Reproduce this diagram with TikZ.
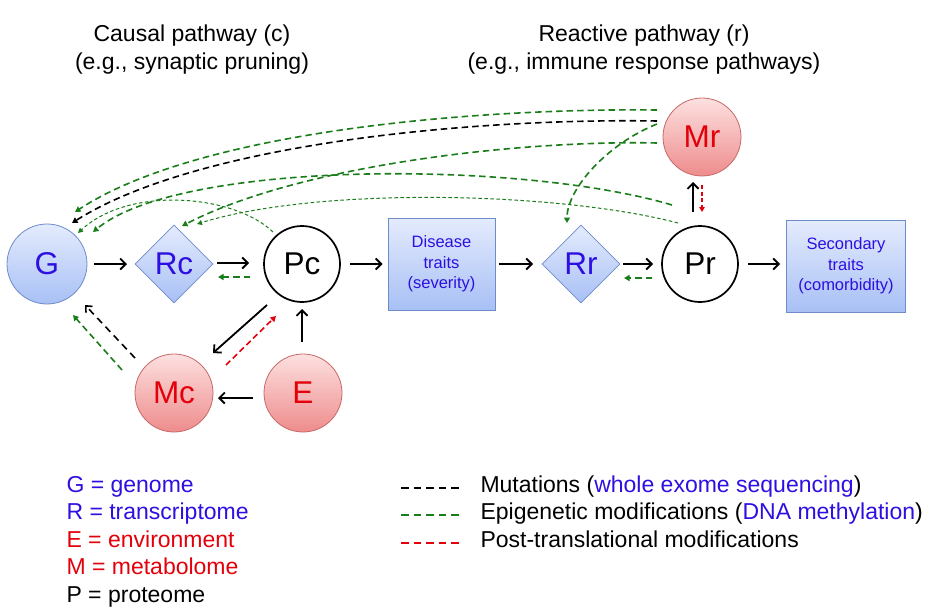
\documentclass[tikz,border=0pt]{standalone}
\usepackage{fontspec}
\setmainfont{Liberation Sans}
\usetikzlibrary{arrows.meta,shapes.geometric,calc}
\definecolor{tblue}{RGB}{45,15,225}
\definecolor{tred}{RGB}{228,0,10}
\definecolor{tgreen}{RGB}{25,125,25}
\definecolor{bfillT}{RGB}{228,235,253}
\definecolor{bfillB}{RGB}{168,192,245}
\definecolor{bdraw}{RGB}{110,140,200}
\definecolor{rfillT}{RGB}{253,224,224}
\definecolor{rfillB}{RGB}{238,140,140}
\definecolor{rdraw}{RGB}{200,105,105}
\tikzset{
  bignum/.style={font=\fontsize{31.5}{31.5}\selectfont},
  bcirc/.style={circle, minimum size=80pt, inner sep=0pt, draw=bdraw, line width=0.8pt,
    top color=bfillT, bottom color=bfillB, text=tblue, bignum},
  rcirc/.style={circle, minimum size=78pt, inner sep=0pt, draw=rdraw, line width=0.8pt,
    top color=rfillT, bottom color=rfillB, text=tred, bignum},
  pcirc/.style={circle, minimum size=76pt, inner sep=0pt, draw=black, line width=1.7pt,
    fill=white, text=black, bignum},
  dmd/.style={diamond, minimum width=78pt, minimum height=78pt, inner sep=0pt, draw=bdraw,
    line width=0.8pt, top color=bfillT, bottom color=bfillB, text=tblue, bignum},
  tbox/.style={rectangle, minimum height=92pt, inner sep=0pt, draw=bdraw, line width=0.8pt,
    top color=bfillT, bottom color=bfillB, text=tblue, align=center,
    font=\fontsize{16.5}{20.5}\selectfont},
  hdr/.style={anchor=base, font=\fontsize{23}{28}\selectfont},
  leg/.style={anchor=base west, font=\fontsize{23}{28}\selectfont},
  sarr/.style={line width=1.8pt, -{Straight Barb[length=5.5pt,width=11pt]}},
  gd/.style={tgreen, line width=1.6pt, dash pattern=on 6.5pt off 4pt, -{Triangle[length=5.5pt,width=6pt]}},
  gthin/.style={tgreen, line width=1pt, dash pattern=on 3.5pt off 2.5pt, -{Triangle[length=5pt,width=5pt]}},
  kd/.style={black, line width=1.6pt, dash pattern=on 6.5pt off 4pt, -{Triangle[length=5.5pt,width=6pt]}},
  kdb/.style={black, line width=1.6pt, dash pattern=on 7pt off 5pt, -{Straight Barb[length=5pt,width=9pt]}},
  rd/.style={tred, line width=1.6pt, dash pattern=on 6pt off 3.5pt, -{Triangle[length=5.5pt,width=6pt]}},
  rdsmall/.style={tred, line width=1.3pt, dash pattern=on 4pt off 2.5pt, -{Triangle[length=5pt,width=5.5pt]}},
  legline/.style={line width=2pt, dash pattern=on 7.5pt off 5pt},
}
\begin{document}
\begin{tikzpicture}[x=1pt,y=-1pt]
\useasboundingbox (0,0) rectangle (930,610);
\fill[white] (0,0) rectangle (930,610);

% headers
\node[hdr] (h1) at (192,42) {Causal pathway (c)};
\node[hdr] (h2) at (192,70) {(e.g., synaptic pruning)};
\node[hdr] (h3) at (644,42) {Reactive pathway (r)};
\node[hdr] (h4) at (644,70) {(e.g., immune response pathways)};

% nodes
\node[bcirc] (G) at (47,264) {G};
\node[dmd] (Rc) at (174,264) {Rc};
\node[pcirc] (Pc) at (302,264) {Pc};
\node[tbox, minimum width=107pt] (Dis) at (441.5,264) {Disease\\traits\\(severity)};
\node[dmd] (Rr) at (581,264) {Rr};
\node[pcirc] (Pr) at (700,264) {Pr};
\node[tbox, minimum width=119pt] (Sec) at (846,266) {Secondary\\traits\\(comorbidity)};
\node[rcirc] (Mr) at (702,137) {Mr};
\node[rcirc] (Mc) at (174,393) {Mc};
\node[rcirc] (E) at (303,393) {E};

% main row arrows
\draw[sarr] ($(G)+(47,0)$) -- ($(Rc)+(-47,0)$);
\draw[sarr] ($(Rc)+(43,-1)$) -- ($(Pc)+(-53,-1)$);
\draw[gd] ($(Pc)+(-52,13)$) -- ($(Rc)+(44,13)$);
\draw[sarr] ($(Pc)+(48,0)$) -- ($(Dis)+(-59,0)$);
\draw[sarr] ($(Dis)+(57,0)$) -- ($(Rr)+(-48,0)$);
\draw[sarr] ($(Rr)+(42,0)$) -- ($(Pr)+(-47,0)$);
\draw[gd] ($(Pr)+(-48,14)$) -- ($(Rr)+(43,14)$);
\draw[sarr] ($(Pr)+(48,0)$) -- ($(Sec)+(-66,-2)$);
\draw[sarr] ($(Pr)+(-7,-52)$) -- ($(Mr)+(-9,45)$);
\draw[rdsmall] ($(Mr)+(0,48)$) -- ($(Pr)+(2,-52)$);

% lower arrows
\draw[sarr] ($(Pc)+(-35,41)$) -- ($(Mc)+(39,-40)$);
\draw[rd] ($(Mc)+(52,-28)$) -- ($(Pc)+(-26,52)$);
\draw[sarr] ($(E)+(-1,-51)$) -- ($(Pc)+(0,45)$);
\draw[sarr] ($(E)+(-50,5)$) -- ($(Mc)+(44,5)$);
\draw[kdb] ($(Mc)+(-39,-35)$) -- ($(G)+(38,41)$);
\draw[gd] ($(Mc)+(-52,-23)$) -- ($(G)+(26,51)$);

% long curved arrows
\draw[gd] ($(Mr)+(-45,-27)$) .. controls (480,108) and (200,130) .. ($(G)+(28,-52)$);
\draw[kd] ($(Mr)+(-45,-16)$) .. controls (480,118) and (200,142) .. ($(G)+(25,-41)$);
\draw[gd] ($(Mr)+(-45,6)$) .. controls (520,140) and (300,165) .. ($(Rc)+(8,-38)$);
\draw[gd] ($(Pr)+(-28,-59)$) .. controls (520,160) and (180,160) .. ($(G)+(46,-32)$);
\draw[gthin] ($(Pr)+(-22,-41)$) .. controls (560,192) and (320,186) .. ($(Rc)+(23,-40)$);
\draw[gd] ($(Mr)+(-45,-13)$) .. controls (607,144) and (567,189) .. ($(Rr)+(-14,-41)$);
\draw[gthin] ($(Pc)+(-29,-32)$) .. controls (235,195) and (130,185) .. ($(G)+(31,-31)$);

% legend left
\node[leg, text=tblue] (l1) at (63,492) {G = genome};
\node[leg, text=tblue] (l2) at (63,519.5) {R = transcriptome};
\node[leg, text=tred] (l3) at (63,547) {E = environment};
\node[leg, text=tred] (l4) at (63,574.5) {M = metabolome};
\node[leg, text=black] (l5) at (63,602) {P = proteome};

% legend right
\node[leg] (m1) at (477,492) {Mutations (\textcolor{tblue}{whole exome sequencing})};
\node[leg] (m2) at (477,519.5) {Epigenetic modifications (\textcolor{tblue}{DNA methylation})};
\node[leg] (m3) at (477,547) {Post-translational modifications};
\coordinate (k1a) at (401,488); \coordinate (k1b) at (463,488);
\coordinate (k2a) at (401,515); \coordinate (k2b) at (463,515);
\coordinate (k3a) at (401,543); \coordinate (k3b) at (463,543);
\draw[legline, black] (k1a) -- (k1b);
\draw[legline, tgreen] (k2a) -- (k2b);
\draw[legline, tred] (k3a) -- (k3b);
\end{tikzpicture}
\end{document}
